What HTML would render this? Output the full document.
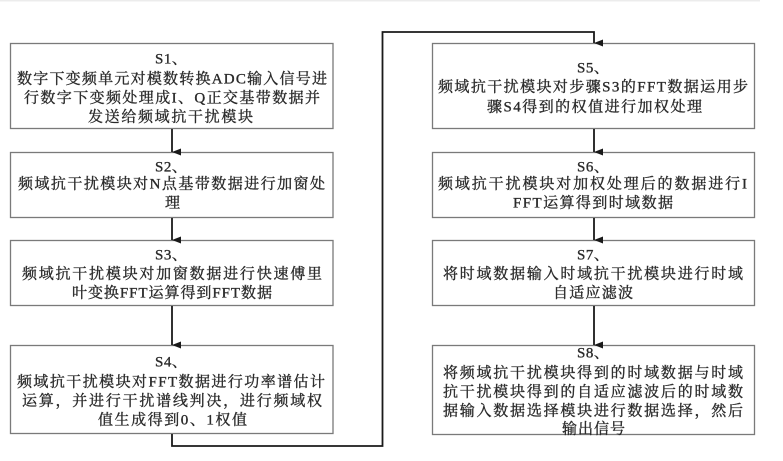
<!DOCTYPE html>
<html><head><meta charset="utf-8"><style>
html,body{margin:0;padding:0;background:#fff;width:783px;height:461px;overflow:hidden}
svg{display:block}
text{font-family:"Liberation Serif","Noto Serif CJK SC",serif;font-size:15px;fill:#2a2a2a;stroke:#2a2a2a;stroke-width:0.35}
text.s{letter-spacing:0.5px}
</style></head><body>
<svg width="783" height="461" viewBox="0 0 783 461" xmlns="http://www.w3.org/2000/svg">
<rect x="0" y="0" width="760" height="1.5" fill="#ececec"/>
<defs>
<marker id="ah" markerWidth="8" markerHeight="9" refX="4" refY="9" orient="auto" markerUnits="userSpaceOnUse">
<path d="M0.5,0 L7.5,0 L4,9 Z" fill="#1a1a1a"/>
</marker>
</defs>
<g fill="#fff" stroke="#7a7a7a" stroke-width="1.3">
<rect x="10.5" y="43.5" width="322.5" height="85"/>
<rect x="10.5" y="152.5" width="322.5" height="65"/>
<rect x="10.5" y="240.5" width="322.5" height="65"/>
<rect x="10.5" y="345.5" width="322.5" height="88"/>
<rect x="432.5" y="43.5" width="322" height="85"/>
<rect x="432.5" y="152.5" width="322" height="65"/>
<rect x="432.5" y="240.5" width="322" height="65"/>
<rect x="432.5" y="345.5" width="322" height="89"/>
</g>
<g stroke="#1a1a1a" stroke-width="1.8" fill="none">
<line x1="172" y1="129" x2="172" y2="152" marker-end="url(#ah)"/>
<line x1="172" y1="218" x2="172" y2="240" marker-end="url(#ah)"/>
<line x1="172" y1="306" x2="172" y2="345" marker-end="url(#ah)"/>
<polyline points="172,434 172,446 382.5,446 382.5,32 594,32 594,43" marker-end="url(#ah)"/>
<line x1="594" y1="129" x2="594" y2="152" marker-end="url(#ah)"/>
<line x1="594" y1="218" x2="594" y2="240" marker-end="url(#ah)"/>
<line x1="594" y1="306" x2="594" y2="345" marker-end="url(#ah)"/>
</g>
<g>
<text class="s" x="155" y="63.5">S1、</text>
<text x="17" y="83.5" textLength="310" lengthAdjust="spacing">数字下变频单元对模数转换ADC输入信号进</text>
<text x="24" y="102.5" textLength="296" lengthAdjust="spacing">行数字下变频处理成I、Q正交基带数据并</text>
<text x="88" y="121.5" textLength="165" lengthAdjust="spacing">发送给频域抗干扰模块</text>

<text class="s" x="155" y="171.5">S2、</text>
<text x="18" y="188.5" textLength="307" lengthAdjust="spacing">频域抗干扰模块对N点基带数据进行加窗处</text>
<text x="165" y="207.5" textLength="14" lengthAdjust="spacing">理</text>

<text class="s" x="155" y="259.5">S3、</text>
<text x="22" y="278.5" textLength="300" lengthAdjust="spacing">频域抗干扰模块对加窗数据进行快速傅里</text>
<text x="72" y="297.5" textLength="200" lengthAdjust="spacing">叶变换FFT运算得到FFT数据</text>

<text class="s" x="155" y="366.5">S4、</text>
<text x="17" y="386.5" textLength="308" lengthAdjust="spacing">频域抗干扰模块对FFT数据进行功率谱估计</text>
<text x="22" y="405.5" textLength="300" lengthAdjust="spacing">运算，并进行干扰谱线判决，进行频域权</text>
<text x="98" y="424.5" textLength="149" lengthAdjust="spacing">值生成得到0、1权值</text>

<text class="s" x="577" y="72.5">S5、</text>
<text x="438" y="91.5" textLength="310" lengthAdjust="spacing">频域抗干扰模块对步骤S3的FFT数据运用步</text>
<text x="487" y="111.5" textLength="215" lengthAdjust="spacing">骤S4得到的权值进行加权处理</text>

<text class="s" x="577" y="171.5">S6、</text>
<text x="438" y="188.5" textLength="309" lengthAdjust="spacing">频域抗干扰模块对加权处理后的数据进行I</text>
<text x="513" y="207.5" textLength="160" lengthAdjust="spacing">FFT运算得到时域数据</text>

<text class="s" x="577" y="259.5">S7、</text>
<text x="443" y="278.5" textLength="300" lengthAdjust="spacing">将时域数据输入时域抗干扰模块进行时域</text>
<text x="553" y="297.5" textLength="80" lengthAdjust="spacing">自适应滤波</text>

<text class="s" x="577" y="357.5">S8、</text>
<text x="443" y="377.5" textLength="300" lengthAdjust="spacing">将频域抗干扰模块得到的时域数据与时域</text>
<text x="443" y="396.5" textLength="300" lengthAdjust="spacing">抗干扰模块得到的自适应滤波后的时域数</text>
<text x="443" y="415.5" textLength="300" lengthAdjust="spacing">据输入数据选择模块进行数据选择，然后</text>
<text x="562" y="433.5" textLength="63" lengthAdjust="spacing">输出信号</text>
</g>
</svg>
</body></html>
